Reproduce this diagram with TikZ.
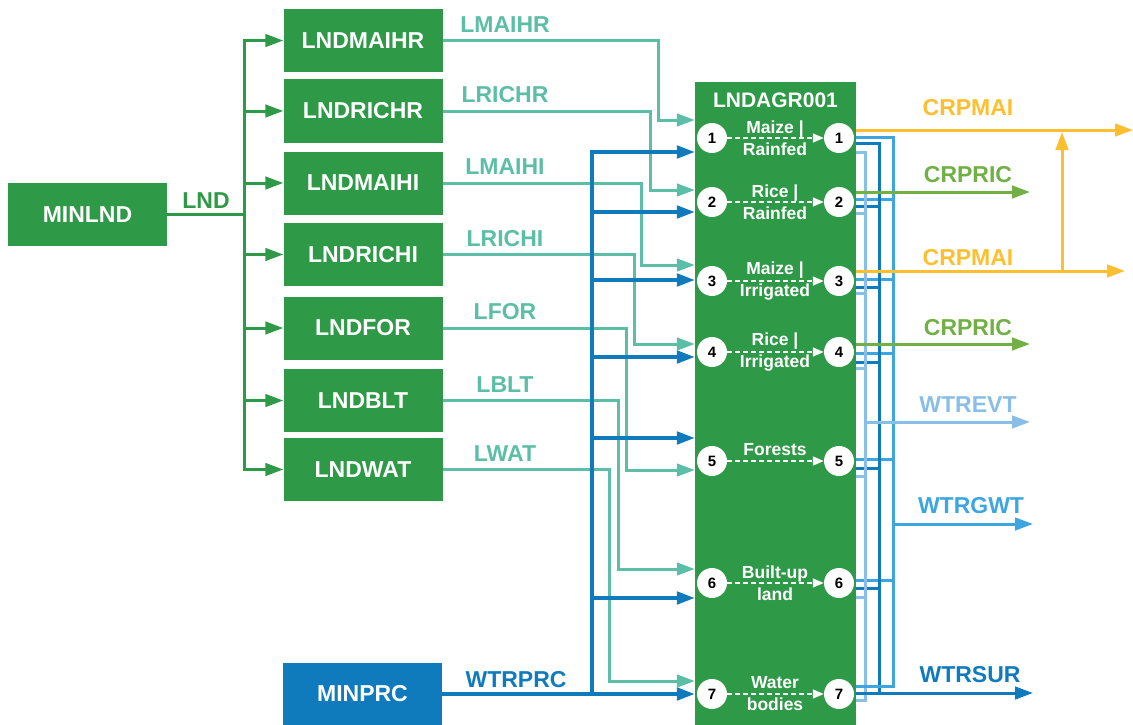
\documentclass[tikz,border=0pt]{standalone}
\usepackage{fontspec}
\setmainfont{Liberation Sans}
\usetikzlibrary{arrows.meta}

\definecolor{boxgreen}{HTML}{2E9946}
\definecolor{prcblue}{HTML}{0F7BBD}
\definecolor{landteal}{HTML}{5CBEA6}
\definecolor{maiyellow}{HTML}{FDBF2F}
\definecolor{ricgreen}{HTML}{72B045}
\definecolor{gwtblue}{HTML}{3DA5DF}
\definecolor{evtblue}{HTML}{88BEE8}

\begin{document}
\begin{tikzpicture}
  [x=1pt,y=-1pt,
   box/.style={rectangle,fill=boxgreen,text=white,inner sep=0pt,minimum width=159pt,minimum height=63pt,font=\bfseries\fontsize{23}{26}\selectfont},
   lab/.style={inner sep=0pt,font=\bfseries\fontsize{23}{26}\selectfont},
   num/.style={circle,fill=white,inner sep=0pt,minimum size=30pt,font=\bfseries\fontsize{15}{18}\selectfont},
   proc/.style={text=white,align=center,inner sep=0pt,font=\bfseries\fontsize{17.5}{22}\selectfont},
   flow/.style={line width=3pt,-{Triangle[length=18pt,width=12.5pt]}},
   bus/.style={line width=3pt},
   inner/.style={white,line width=1.5pt,dash pattern=on 5pt off 3pt,-{Triangle[length=11pt,width=9pt]}}]
  \useasboundingbox (0,0) rectangle (1133,725);

  % sources
  \node[box] (MINLND) at (87.5,214.5) {MINLND};
  \node[box,fill=prcblue] (MINPRC) at (362.5,694) {MINPRC};
  \node[lab,text=boxgreen] (LND) at (206,201) {LND};
  \node[lab,text=prcblue] (WTRPRC) at (516,680) {WTRPRC};

  % process box
  \node[box,minimum width=161pt,minimum height=660pt,anchor=north] (agr) at (775.5,82) {};
  \node[lab,text=white,font=\bfseries\fontsize{21}{24}\selectfont] (agrname) at (775.5,100) {LNDAGR001};

  % land types
  \foreach \nm/\y/\flow/\xv/\yt in {LNDMAIHR/40.5/LMAIHR/658/120,LNDRICHR/111/LRICHR/650/190,
      LNDMAIHI/183/LMAIHI/641/265,LNDRICHI/254.5/LRICHI/634/344,LNDFOR/328/LFOR/626/470,
      LNDBLT/400.5/LBLT/618/569,LNDWAT/469.5/LWAT/609/681}
  {
    \node[box] (\nm) at (363,\y) {\nm};
    \node[lab,text=landteal] (\flow) at (505,\y-16) {\flow};
    \draw[flow,boxgreen] (MINLND.east) -| ([xshift=-39pt]\nm.west) -- (\nm.west);
    \draw[flow,landteal] (\nm.east) -| (\xv,\yt) -- (agr.west |- 0,\yt);
  }

  % precipitation
  \coordinate (prcsplit) at (592,694);
  \draw[flow,prcblue,line width=3.5pt] (MINPRC.east) -- (agr.west |- MINPRC.east);
  \foreach \y in {152,212,280,357,438,598}
    \draw[flow,prcblue,line width=3.5pt] (prcsplit) |- (agr.west |- 0,\y);

  % technologies
  \foreach \i/\y/\txt in {1/138/{Maize |\\Rainfed},2/202/{Rice |\\Rainfed},3/281/{Maize |\\Irrigated},
      4/352/{Rice |\\Irrigated},6/583/{Built-up\\land},7/694/{Water\\bodies}}
  {
    \node[num] (i\i) at (712,\y) {\i};
    \node[num] (o\i) at (839,\y) {\i};
    \node[proc] (p\i) at (775,\y) {\txt};
    \draw[inner] (i\i) -- (o\i);
  }
  \node[num] (i5) at (712,461) {5};
  \node[num] (o5) at (839,461) {5};
  \node[proc] (p5) at (775,450) {Forests};
  \draw[inner] (i5) -- (o5);

  % water outputs
  \coordinate (evtbus) at (865,0);
  \coordinate (surbus) at (879,0);
  \coordinate (gwtbus) at (893,0);
  \foreach \m/\d/\l in {199/206/213,279/287/293,353/362/368,459/468/476,580/588/597}
  {
    \draw[bus,evtblue] (agr.east |- 0,\l) -- (evtbus |- 0,\l);
    \draw[bus,prcblue] (agr.east |- 0,\d) -- (surbus |- 0,\d);
    \draw[bus,gwtblue] (agr.east |- 0,\m) -- (gwtbus |- 0,\m);
  }
  \draw[bus,evtblue] (agr.east |- 0,152) -| (evtbus |- 0,700) -- (agr.east |- 0,700);
  \draw[bus,prcblue] (agr.east |- 0,143) -| (surbus |- 0,693);
  \draw[bus,gwtblue] (agr.east |- 0,137) -| (gwtbus |- 0,686) -- (agr.east |- 0,686);
  \draw[flow,evtblue] (evtbus |- 0,422) -- (1030,422);
  \draw[flow,gwtblue] (gwtbus |- 0,524) -- (1033,524);
  \draw[flow,prcblue] (agr.east |- 0,693) -- (1033,693);
  \node[lab,text=evtblue] (WTREVT) at (968,405) {WTREVT};
  \node[lab,text=gwtblue] (WTRGWT) at (971,506) {WTRGWT};
  \node[lab,text=prcblue] (WTRSUR) at (970,675) {WTRSUR};

  % crop outputs
  \coordinate (maijoin) at (1062,271);
  \draw[flow,maiyellow] (agr.east |- 0,130) -- (1133,130);
  \draw[flow,maiyellow] (agr.east |- 0,271) -- (1125,271);
  \draw[flow,maiyellow] (maijoin) -- (maijoin |- 0,132);
  \draw[flow,ricgreen] (agr.east |- 0,192) -- (1030,192);
  \draw[flow,ricgreen] (agr.east |- 0,344) -- (1030,344);
  \node[lab,text=maiyellow] (CRPMAI) at (968,108) {CRPMAI};
  \node[lab,text=ricgreen] (CRPRIC) at (968,175) {CRPRIC};
  \node[lab,text=maiyellow] (CRPMAIb) at (968,258) {CRPMAI};
  \node[lab,text=ricgreen] (CRPRICb) at (968,328) {CRPRIC};
\end{tikzpicture}
\end{document}
